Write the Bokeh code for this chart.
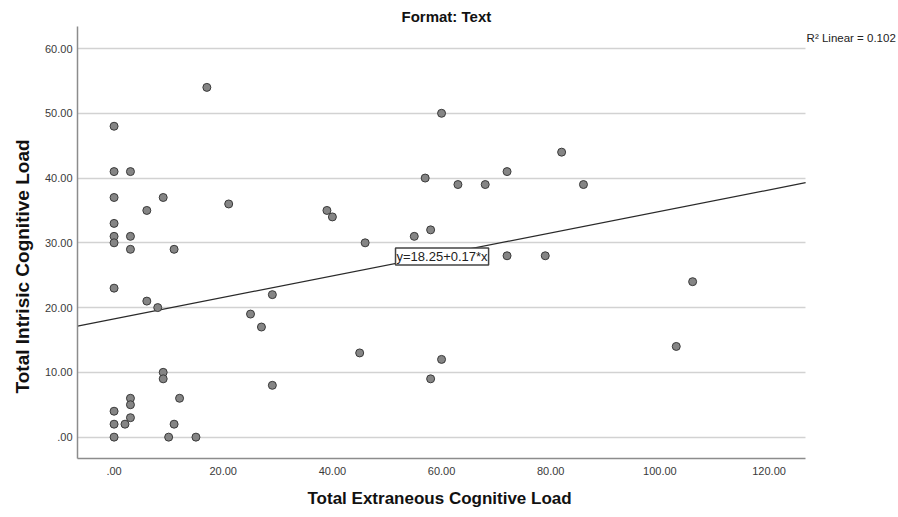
from bokeh.plotting import figure
from bokeh.models import Range1d, Label, FixedTicker, ColumnDataSource, Title, Grid
from bokeh.embed import file_html
from bokeh.resources import INLINE

# ---- data ----
extraneous = [17, 0, 0, 3, 0, 9, 6, 21, 0, 0, 0, 3, 3, 11, 0, 6, 8, 25, 27,
              9, 9, 3, 3, 12, 0, 0, 2, 3, 11, 0, 10, 15,
              60, 57, 39, 40, 55, 58, 46, 29, 45, 60, 58, 29,
              63, 68, 72, 82, 86, 72, 79, 106, 103]
intrinsic = [54, 48, 41, 41, 37, 37, 35, 36, 33, 31, 30, 31, 29, 29, 23, 21, 20, 19, 17,
             10, 9, 6, 5, 6, 4, 2, 2, 3, 2, 0, 0, 0,
             50, 40, 35, 34, 31, 32, 30, 22, 13, 12, 9, 8,
             39, 39, 41, 44, 39, 28, 28, 24, 14]

fit_intercept = 18.25
fit_slope = 0.166
equation_text = "y=18.25+0.17*x"
r2_text = "R\u00b2 Linear = 0.102"
title_text = "Format: Text"
x_title = "Total Extraneous Cognitive Load"
y_title = "Total Intrisic Cognitive Load"

x_ticks = [0, 20, 40, 60, 80, 100, 120]
x_tick_labels = [".00", "20.00", "40.00", "60.00", "80.00", "100.00", "120.00"]
y_ticks = [0, 10, 20, 30, 40, 50, 60]
y_tick_labels = [".00", "10.00", "20.00", "30.00", "40.00", "50.00", "60.00"]

# ---- layout ----
W, H = 898, 517
FL, FR, FT, FB = 76, 805, 26, 458      # visible axes box
X0, XA = -6.7, 126.7                   # x extent of the axes box
Y0, Y1 = -3.3, 63.4
PXU = (FR - FL) / (XA - X0)            # pixels per x unit
X1 = X0 + (W - FL) / PXU               # frame runs to the canvas edge (room for R² note)


def dx(px):
    return X0 + (px - FL) / PXU


def dy(py):
    return Y0 + (FB - py) * (Y1 - Y0) / (FB - FT)


FONT = "Liberation Sans"

p = figure(width=W, height=H, x_range=Range1d(X0, X1), y_range=Range1d(Y0, Y1),
           output_backend="svg", toolbar_location=None,
           min_border_left=FL, min_border_right=0,
           min_border_top=FT, min_border_bottom=H - FB)
p.outline_line_color = None
p.background_fill_color = "white"
p.border_fill_color = "white"

p.title.text = title_text
p.title.align = "left"
p.title.offset = 445 - FL - 45
p.title.text_font = FONT
p.title.text_font_size = "15px"
p.title.text_font_style = "bold"
p.title.text_color = "#111111"
p.title.standoff = 3

p.xaxis.ticker = FixedTicker(ticks=x_ticks)
p.xaxis.major_label_overrides = {t: l for t, l in zip(x_ticks, x_tick_labels)}
p.xaxis.bounds = (X0, XA)
p.yaxis.ticker = FixedTicker(ticks=y_ticks)
p.yaxis.major_label_overrides = {t: l for t, l in zip(y_ticks, y_tick_labels)}

p.xgrid.visible = False
grid_color = "#d2d2d2"
if "cross_bounds" in Grid.properties():
    p.ygrid.cross_bounds = (X0, XA)
    p.ygrid.grid_line_color = grid_color
    p.ygrid.grid_line_width = 1.5
else:
    p.ygrid.visible = False
    p.segment(x0=[X0] * len(y_ticks), x1=[XA] * len(y_ticks), y0=y_ticks, y1=y_ticks,
              line_color=grid_color, line_width=1.5, level="underlay")

for ax in (p.xaxis, p.yaxis):
    ax.axis_line_color = "#8c8c8c"
    ax.axis_line_width = 1.5
    ax.major_tick_out = 0
    ax.major_tick_in = 0
    ax.minor_tick_out = 0
    ax.minor_tick_in = 0
    ax.major_label_text_font = FONT
    ax.major_label_text_font_size = "11px"
    ax.major_label_text_color = "#3a3a3a"
p.xaxis.major_label_standoff = 8
p.yaxis.major_label_standoff = 5

# axis titles as side-panel titles so they can sit where the reference has them
p.add_layout(Title(text=x_title, align="left", offset=440 - FL - 134, text_font=FONT,
                   text_font_size="17px", text_font_style="bold",
                   text_color="#111111", standoff=18), "below")
p.add_layout(Title(text=y_title, align="left", offset=65, text_font=FONT,
                   text_font_size="19px", text_font_style="bold",
                   text_color="#111111", standoff=18), "left")

# regression line
lx = [X0, XA]
ly = [fit_intercept + fit_slope * v for v in lx]
p.line(lx, ly, line_color="#2a2a2a", line_width=1.2)

src = ColumnDataSource(dict(x=extraneous, y=intrinsic))
p.scatter("x", "y", source=src, size=8, fill_color="#858585",
          line_color="#3a3a3a", line_width=1)

p.add_layout(Label(x=dx(806), y=dy(37), text=r2_text, text_font=FONT,
                   text_font_size="11.5px", text_align="left", text_baseline="middle",
                   text_color="#222222"))

p.add_layout(Label(x=dx(441), y=dy(256), text=equation_text, text_font=FONT,
                   text_font_size="13px", text_align="center", text_baseline="middle",
                   text_color="#222222", background_fill_color="white",
                   border_line_color="#444444", border_line_width=1.5, padding=1))

open("out.html", "w").write(file_html(p, INLINE))
